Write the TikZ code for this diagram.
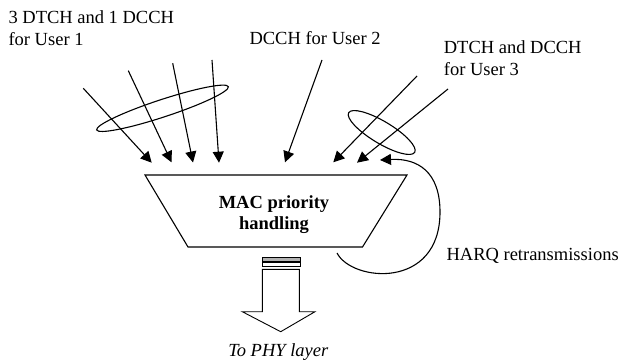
\documentclass[tikz,border=0pt]{standalone}
\usepackage{fontspec}
\setmainfont{Liberation Serif}
\usetikzlibrary{arrows.meta}

\begin{document}
\begin{tikzpicture}[x=1pt,y=-1pt,line width=1.1pt,
  every node/.style={font=\fontsize{18.5}{21.7}\selectfont, inner sep=0pt},
  chan/.style={-{Triangle[length=11pt,width=11pt]}}]
  \useasboundingbox (0,0) rectangle (621,361);
  % Channel labels
  \node[anchor=north west, align=left] (user1) at (8,10.1) {3 DTCH and 1 DCCH\\for User 1};
  \node[anchor=base west] (user2) at (249,44.3) {DCCH for User 2};
  \node[anchor=north west, align=left] (user3) at (443.3,40.1) {DTCH and DCCH\\for User 3};
  % Logical channels of user 1
  \coordinate (u1as) at (83.3,88.3);   \coordinate (u1ae) at (151.7,162.7);
  \coordinate (u1bs) at (128.3,70.7);  \coordinate (u1be) at (171.5,162.3);
  \coordinate (u1cs) at (172.7,63.3);  \coordinate (u1ce) at (193,162.5);
  \coordinate (u1ds) at (212,60);      \coordinate (u1de) at (219,162.7);
  \draw[chan] (u1as) -- (u1ae);
  \draw[chan] (u1bs) -- (u1be);
  \draw[chan] (u1cs) -- (u1ce);
  \draw[chan] (u1ds) -- (u1de);
  \draw[rotate around={18.2:(162.5,108.3)}] (162.5,108.3) ellipse [x radius=69.3, y radius=8.7];
  % Logical channel of user 2
  \coordinate (u2s) at (322,60);  \coordinate (u2e) at (285,162.3);
  \draw[chan] (u2s) -- (u2e);
  % Logical channels of user 3
  \coordinate (u3as) at (417,76);  \coordinate (u3ae) at (333.3,162.3);
  \coordinate (u3bs) at (448,89);  \coordinate (u3be) at (357,162.7);
  \draw[chan] (u3as) -- (u3ae);
  \draw[chan] (u3bs) -- (u3be);
  \draw[rotate around={-31:(381.7,132.5)}] (381.7,132.5) ellipse [x radius=38.5, y radius=11];
  % MAC priority handling block
  \draw (145,175) -- (407,175) -- (362.5,247) -- (188,247) -- cycle;
  \node[anchor=north, align=center, font=\fontsize{18.5}{21.7}\selectfont\bfseries] (mac) at (274,194.7) {MAC priority\\handling};
  % HARQ loop
  \coordinate (harqs) at (337,253);  \coordinate (harqe) at (380,160);
  \draw[chan] (harqs) .. controls (352,282) and (440,290) .. (440,212)
    .. controls (440,172) and (418,158) .. (harqe);
  \node[anchor=base west] (harq) at (446,260) {HARQ retransmissions};
  % Output to the physical layer
  \draw[line width=0.6pt, fill=gray!60] (262,257.7) rectangle (300,261);
  \draw[line width=0.9pt] (262,262.3) rectangle (300,266);
  \draw[line width=0.9pt] (262.3,269.3) -- (299.3,269.3) -- (299.3,311.7) -- (315,311.7)
    -- (280.7,331.7) -- (242.3,311.7) -- (262.3,311.7) -- cycle;
  \node[anchor=base, font=\fontsize{18.5}{21.7}\selectfont\itshape] (phy) at (278.3,356.7) {To PHY layer};
\end{tikzpicture}
\end{document}
